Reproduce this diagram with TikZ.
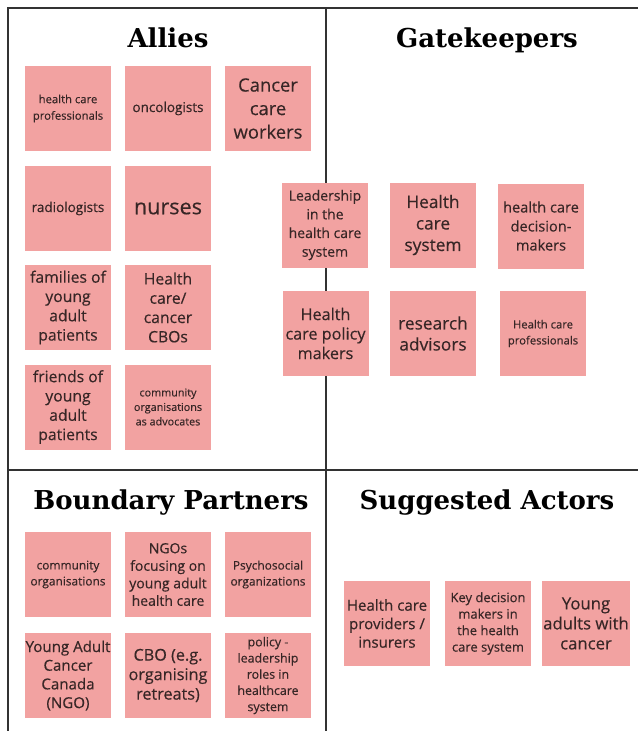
\documentclass[tikz,border=0pt]{standalone}
\usepackage{fontspec}
\setmainfont{Open Sans}[FakeBold=0.35]
\newfontfamily\titlefont{DejaVu Serif}
\usepackage{tikz}

\definecolor{notepink}{RGB}{242,162,161}
\definecolor{notetext}{RGB}{55,38,38}
\definecolor{framegray}{RGB}{50,50,50}

\tikzset{
    note/.style={fill=notepink, minimum width=86pt, minimum height=85pt,
        inner sep=1pt, align=center, text=notetext},
    heading/.style={anchor=base, font=\titlefont\bfseries\fontsize{26}{30}\selectfont, text=black}
}

\begin{document}
\begin{tikzpicture}[x=1pt, y=-1pt]

    % Define parameters
    \def\frameLeft{8}
    \def\frameTop{8}
    \def\midX{326}
    \def\midY{470}
    \def\pageW{638}
    \def\pageH{731}

    \useasboundingbox[fill=white] (0,0) rectangle (\pageW,\pageH);

    % Draw the quadrant frame
    \draw[framegray, line width=2.4pt]
        (\frameLeft,\pageH) -- (\frameLeft,\frameTop) -- (\pageW,\frameTop);
    \draw[framegray, line width=2.4pt] (\midX,\frameTop) -- (\midX,\pageH);
    \draw[framegray, line width=2.4pt] (\frameLeft,\midY) -- (\pageW,\midY);

    % Headings
    \node[heading] (allies) at (168,47) {Allies};
    \node[heading] (gate) at (487,47) {Gatekeepers};
    \node[heading] (boundary) at (171,509) {Boundary Partners};
    \node[heading] (suggested) at (487,509) {Suggested Actors};

    % Allies
    \node[note, font=\fontsize{11.3}{16.5}\selectfont] (hcp) at (68,108.5) {health care\\professionals};
    \node[note, font=\fontsize{13.5}{16}\selectfont] (onco) at (168,108.5) {oncologists};
    \node[note, font=\fontsize{18.4}{23.5}\selectfont] (ccw) at (268,108.5) {Cancer\\care\\workers};
    \node[note, font=\fontsize{13.5}{16}\selectfont] (radio) at (68,208.5) {radiologists};
    \node[note, font=\fontsize{21.6}{24}\selectfont] (nurses) at (168,208.5) {nurses};
    \node[note, font=\fontsize{15.7}{19.3}\selectfont] (families) at (68,307.5) {families of\\young\\adult\\patients};
    \node[note, font=\fontsize{15.7}{19.3}\selectfont] (cbos) at (168,307.5) {Health\\care/\\cancer\\CBOs};
    \node[note, font=\fontsize{15.7}{19.3}\selectfont] (friends) at (68,407) {friends of\\young\\adult\\patients};
    \node[note, font=\fontsize{10.8}{14.5}\selectfont] (advocates) at (168,407) {community\\organisations\\as advocates};

    % Gatekeepers
    \node[note, font=\fontsize{14}{18.7}\selectfont] (leaders) at (325,225) {Leadership\\in the\\health care\\system};
    \node[note, font=\fontsize{17.3}{21.5}\selectfont] (hcsystem) at (433,225) {Health\\care\\system};
    \node[note, font=\fontsize{14.6}{19}\selectfont] (deciders) at (541,226) {health care\\decision-\\makers};
    \node[note, font=\fontsize{16.2}{19.5}\selectfont] (policy) at (325.5,333.5) {Health\\care policy\\makers};
    \node[note, font=\fontsize{17.3}{21}\selectfont] (research) at (433,333.5) {research\\advisors};
    \node[note, font=\fontsize{11.3}{16}\selectfont] (hcprof) at (543,333.5) {Health care\\professionals};

    % Boundary Partners
    \node[note, font=\fontsize{11.9}{16}\selectfont] (community) at (68,574.5) {community\\organisations};
    \node[note, font=\fontsize{14}{17.5}\selectfont] (ngos) at (168,574.5) {NGOs\\focusing on\\young adult\\health care};
    \node[note, font=\fontsize{11.9}{16}\selectfont] (psycho) at (268,574.5) {Psychosocial\\organizations};
    \node[note, font=\fontsize{15.1}{18.7}\selectfont] (yacc) at (68,675.5) {Young Adult\\Cancer\\Canada\\(NGO)};
    \node[note, font=\fontsize{16.2}{19.5}\selectfont] (cbo) at (168,675.5) {CBO (e.g.\\organising\\retreats)};
    \node[note, font=\fontsize{12.4}{16.2}\selectfont] (roles) at (268,675.5) {policy -\\leadership\\roles in\\healthcare\\system};

    % Suggested Actors
    \node[note, font=\fontsize{15.1}{18.5}\selectfont] (providers) at (387,623.5) {Health care\\providers /\\insurers};
    \node[note, font=\fontsize{13}{16.5}\selectfont] (keydec) at (488,623.5) {Key decision\\makers in\\the health\\care system};
    \node[note, font=\fontsize{16.7}{20}\selectfont] (youngadults) at (586,623.5) {Young\\adults with\\cancer};

\end{tikzpicture}
\end{document}
